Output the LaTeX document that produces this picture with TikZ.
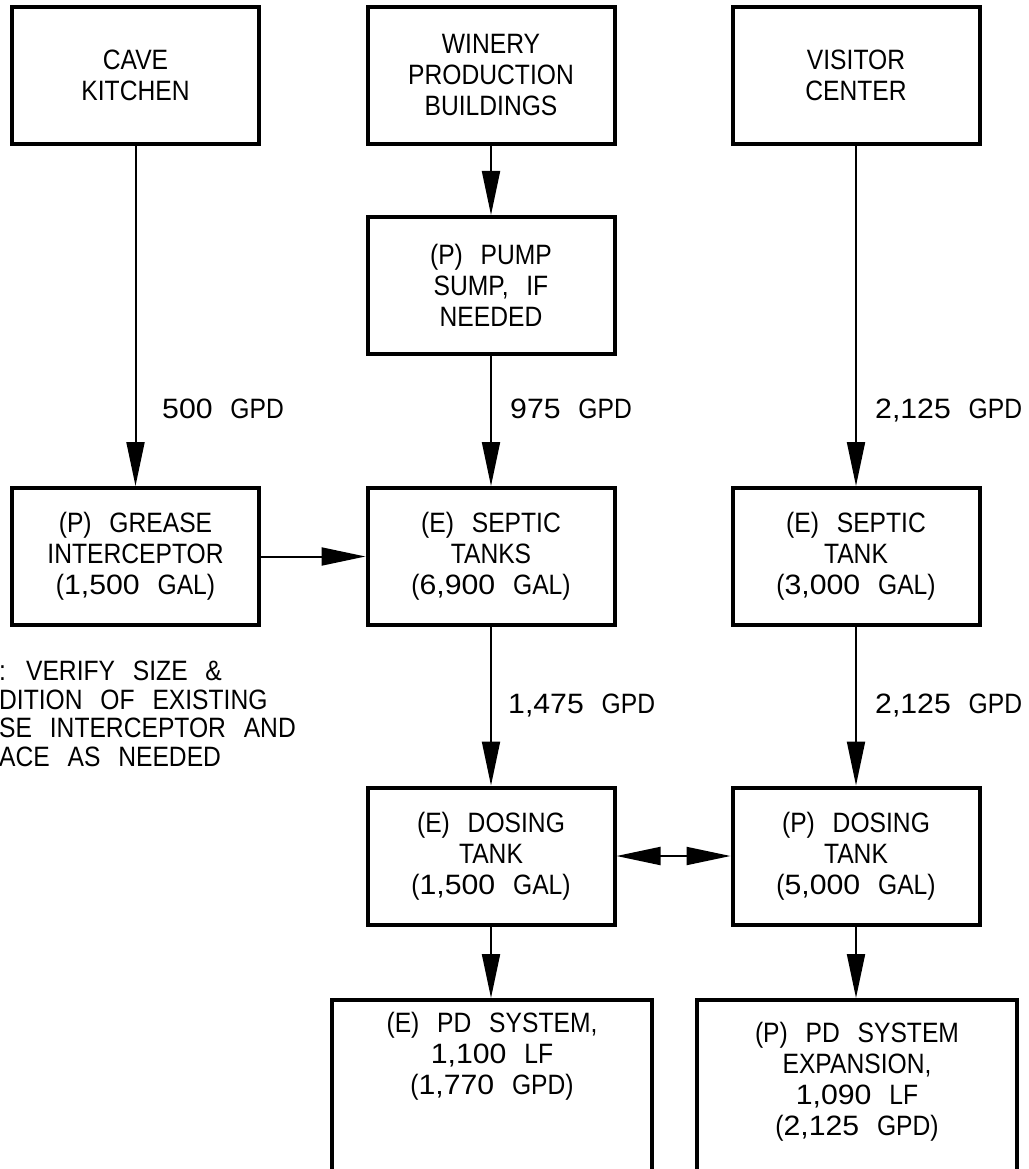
\documentclass[tikz,border=0pt]{standalone}
\usepackage{fontspec}
\setmainfont{Liberation Sans}[FakeStretch=0.88,WordSpace=2.6]
\newfontfamily\digfont{Liberation Sans}[FakeStretch=1.08,WordSpace=2.2]
\newcommand{\nb}[1]{{\digfont #1}}
\usetikzlibrary{arrows.meta}
\begin{document}
\begin{tikzpicture}[x=1pt,y=-1pt,
  box/.style={draw, line width=4pt, minimum width=247pt, minimum height=137pt, align=center,
    font=\fontsize{28}{31}\selectfont, inner sep=0pt},
  txt/.style={align=center, font=\fontsize{28}{31}\selectfont, inner sep=0pt},
  conn/.style={line width=2pt, -{Triangle[length=44pt,width=18pt]}},
  both/.style={line width=2pt, {Triangle[length=44pt,width=18pt]}-{Triangle[length=44pt,width=18pt]}},
  lbl/.style={anchor=base west, font=\fontsize{28}{31}\selectfont, inner sep=0pt}]
\useasboundingbox (0,0) rectangle (1028,1169);
\clip (0,0) rectangle (1028,1169);
\fill[white] (0,0) rectangle (1028,1169);

\node[box] (cave) at (135.5,75.5) {CAVE\\KITCHEN};
\node[box] (winery) at (491,75.5) {WINERY\\PRODUCTION\\BUILDINGS};
\node[box] (visitor) at (856,75.5) {VISITOR\\CENTER};
\node[box] (pump) at (491,285.5) {(P) PUMP\\SUMP, IF\\NEEDED};
\node[box] (grease) at (135.5,556.5) {(P) GREASE\\INTERCEPTOR\\(\nb{1,500} GAL)};
\node[box] (septicE) at (491,556.5) {(E) SEPTIC\\TANKS\\(\nb{6,900} GAL)};
\node[box] (septicR) at (856,556.5) {(E) SEPTIC\\TANK\\(\nb{3,000} GAL)};
\node[box] (dosE) at (491,856) {(E) DOSING\\TANK\\(\nb{1,500} GAL)};
\node[box] (dosP) at (856,856) {(P) DOSING\\TANK\\(\nb{5,000} GAL)};
\node[box, minimum width=320pt, minimum height=300pt, anchor=north] (pdE) at (492,998) {};
\node[txt] (pdEt) at (492,1056) {(E) PD SYSTEM,\\\nb{1,100} LF\\(\nb{1,770} GPD)};
\node[box, minimum width=320pt, minimum height=300pt, anchor=north] (pdP) at (857,998) {};
\node[txt] (pdPt) at (857,1082) {(P) PD SYSTEM\\EXPANSION,\\\nb{1,090} LF\\(\nb{2,125} GPD)};

\draw[conn] (cave) -- (grease);
\draw[conn] (winery) -- (pump);
\draw[conn] (pump) -- (septicE);
\draw[conn] (visitor) -- (septicR);
\draw[conn] (grease) -- (septicE);
\draw[conn] (septicE) -- (dosE);
\draw[conn] (septicR) -- (dosP);
\draw[both] (dosE) -- (dosP);
\draw[conn] (dosE.south) -- (dosE.south |- pdE.north);
\draw[conn] (dosP.south) -- (dosP.south |- pdP.north);

\node[lbl] (l500) at (162,418) {\nb{500} GPD};
\node[lbl] (l975) at (510,418) {\nb{975} GPD};
\node[lbl] (l2125a) at (875,418) {\nb{2,125} GPD};
\node[lbl] (l1475) at (508,713) {\nb{1,475} GPD};
\node[lbl] (l2125b) at (875,713) {\nb{2,125} GPD};

\node[anchor=north west, align=left, inner sep=0pt, font=\fontsize{28}{28.5}\selectfont] (note) at (-1,661)
  {: VERIFY SIZE \&\\DITION OF EXISTING\\SE INTERCEPTOR AND\\ACE AS NEEDED};
\end{tikzpicture}
\end{document}
